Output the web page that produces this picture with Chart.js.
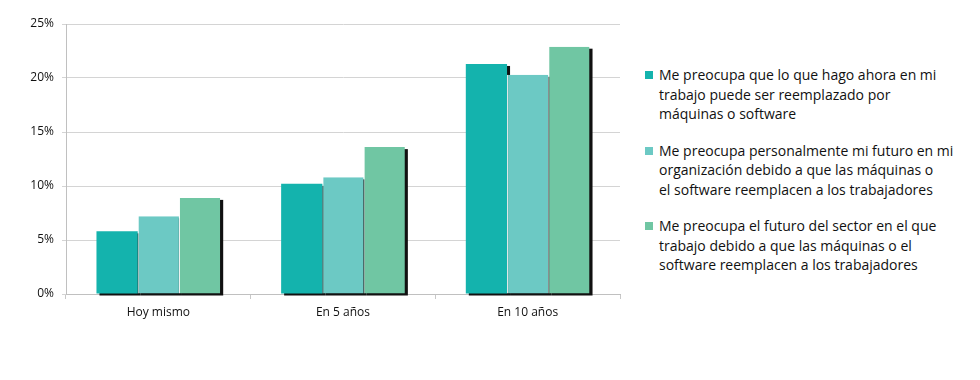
<!DOCTYPE html>
<html>
<head>
<meta charset="utf-8">
<script src="https://cdn.jsdelivr.net/npm/chart.js@4/dist/chart.umd.min.js"></script>
<style>
  body { margin: 0; background: #fff; font-family: 'Open Sans', sans-serif; }
  #wrap { position: relative; width: 980px; height: 380px; }
  #chartBox { position: absolute; left: 0; top: 0; width: 640px; height: 380px; }
  #legend { position: absolute; left: 645px; top: 65px; width: 330px; color: #111; font-size: 14px; line-height: 19.5px; }
  .item { position: relative; padding-left: 14px; margin-bottom: 17px; white-space: nowrap; }
  .sw { position: absolute; left: 0; top: 6px; width: 8px; height: 8px; }
</style>
</head>
<body>
<div id="wrap">
  <div id="chartBox"><canvas id="myChart"></canvas></div>
  <div id="legend"></div>
</div>
<script>
const categories = ['Hoy mismo', 'En 5 años', 'En 10 años'];
// legend labels, split as in the original
const seriesNames = [
  ['Me preocupa que lo que hago ahora en mi', 'trabajo puede ser reemplazado por', 'máquinas o software'],
  ['Me preocupa personalmente mi futuro en mi', 'organización debido a que las máquinas o', 'el software reemplacen a los trabajadores'],
  ['Me preocupa el futuro del sector en el que', 'trabajo debido a que las máquinas o el', 'software reemplacen a los trabajadores']
];
const trabajoActual = [5.8, 10.2, 21.3];
const futuroOrganizacion = [7.2, 10.8, 20.3];
const futuroSector = [8.9, 13.6, 22.9];
const seriesValues = [trabajoActual, futuroOrganizacion, futuroSector];
const colors = ['#14b3ad', '#6cc9c4', '#70c6a3'];

// dark drop shadow under every bar, painted before the bars so neighbours cover it
const shadowPlugin = {
  id: 'barShadow',
  beforeDatasetsDraw(chart) {
    const ctx = chart.ctx;
    ctx.save();
    ctx.fillStyle = '#111';
    chart.data.datasets.forEach((ds, i) => {
      chart.getDatasetMeta(i).data.forEach(bar => {
        const p = bar.getProps(['x', 'y', 'base', 'width'], true);
        ctx.fillRect(p.x - p.width / 2 + 3, p.y + 2, p.width, p.base - p.y);
      });
    });
    ctx.restore();
  }
};

const ctx = document.getElementById('myChart').getContext('2d');
new Chart(ctx, {
  type: 'bar',
  data: {
    labels: categories,
    datasets: seriesNames.map((name, i) => ({
      label: name.join(' '),
      data: seriesValues[i],
      backgroundColor: colors[i],
      borderColor: '#ffffff',
      borderWidth: i === 0 ? 0 : { left: 1, right: 0, top: 0, bottom: 0 },
      borderSkipped: false,
      categoryPercentage: 0.67,
      barPercentage: 1
    }))
  },
  options: {
    responsive: true,
    maintainAspectRatio: false,
    animation: false,
    layout: { padding: { top: 24, right: 20, left: 0, bottom: 0 } },
    plugins: {
      legend: { display: false },
      tooltip: { enabled: false }
    },
    scales: {
      x: {
        grid: { offset: true, drawOnChartArea: false, color: '#c8c8c8', tickLength: 5 },
        border: { color: '#c0c0c0' },
        ticks: { color: '#111', font: { family: 'Open Sans', size: 12 }, padding: 6 },
        afterFit(scale) { scale.height = 86; }
      },
      y: {
        min: 0,
        max: 25,
        ticks: {
          stepSize: 5,
          color: '#111',
          font: { family: 'Open Sans', size: 12 },
          padding: 8,
          callback: v => v + '%'
        },
        grid: { color: '#d4d4d4', tickLength: 4 },
        border: { color: '#c0c0c0' },
        afterFit(scale) { scale.width = 66; }
      }
    }
  },
  plugins: [shadowPlugin]
});

const legend = document.getElementById('legend');
seriesNames.forEach((lines, i) => {
  const item = document.createElement('div');
  item.className = 'item';
  item.innerHTML = '<span class="sw" style="background:' + colors[i] + '"></span>' + lines.join('<br>');
  legend.appendChild(item);
});
</script>
</body>
</html>
